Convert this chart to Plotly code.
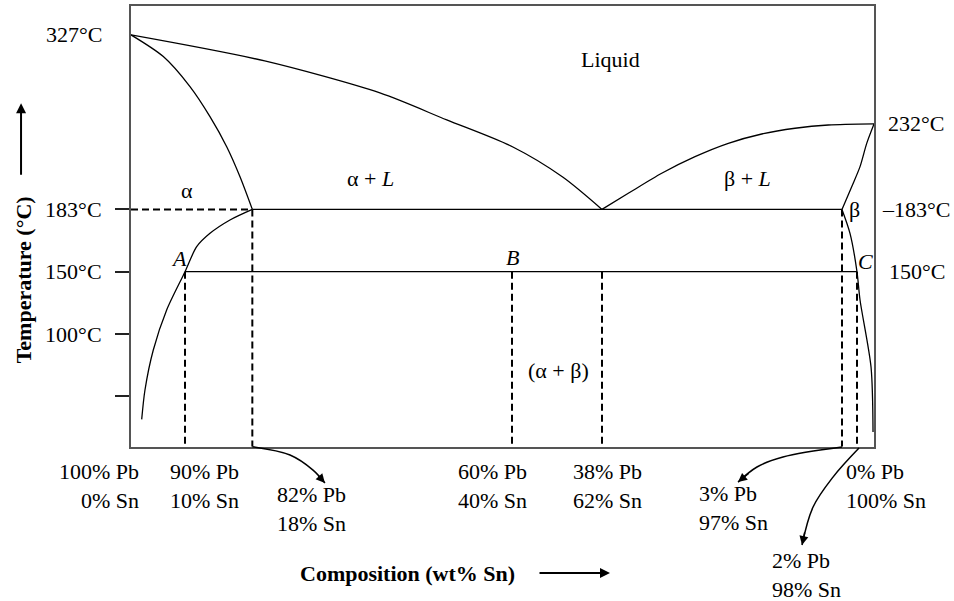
import plotly.graph_objects as go

W, H = 954, 601
FONT = "Liberation Serif"

# ---- schematic diagram units ----
# composition axis: drawn position (0 = 100% Pb, 100 = 100% Sn); temperature axis: drawn position
temp_tick_pos = [200, 150, 100, 50]
temp_tick_text = ["183°C", "150°C", "100°C", ""]

T_PB_MELT = 340.0    # 327°C
T_SN_MELT = 268.6    # 232°C
T_EUT = 200.0        # 183°C
T_LOW = 150.0        # 150°C

X_A = 7.27           # 10% Sn
X_ALPHA = 16.33      # 18% Sn
X_B = 51.28          # 40% Sn
X_EUT = 63.39        # 62% Sn
X_BETA = 95.69       # 97% Sn
X_C = 97.71          # 98% Sn

# phase boundaries
liq_left_x = [0, 18.0, 33.5, 42.5, 51.4, 58.1, X_EUT]
liq_left_y = [T_PB_MELT, 319.1, 293.4, 271.8, 250.1, 226.0, T_EUT]
liq_right_x = [X_EUT, 66.93, 71.43, 75.91, 80.39, 84.89, 89.37, 93.85, 100]
liq_right_y = [T_EUT, 212.9, 229.0, 242.3, 253.0, 260.5, 265.1, 267.7, T_SN_MELT]
sol_alpha_x = [0, 4.35, 7.94, 10.63, 12.88, 14.67, X_ALPHA]
sol_alpha_y = [T_PB_MELT, 322.6, 298.5, 274.4, 250.3, 226.2, T_EUT]
solv_alpha_x = [X_ALPHA, 13.32, 10.63, 8.84, X_A, 4.8, 3.0, 1.88, 1.44]
solv_alpha_y = [T_EUT, 191.5, 180.8, 170.1, T_LOW, 119.3, 87.2, 55.1, 31.5]
sol_beta_x = [100, 99.02, 98.12, 97.0, X_BETA]
sol_beta_y = [T_SN_MELT, 253.0, 234.3, 218.2, T_EUT]
solv_beta_x = [X_BETA, 96.77, X_C, 98.12, 99.6, 99.87]
solv_beta_y = [T_EUT, 180.8, T_LOW, 127.3, 73.5, 21.3]

# dashed composition lines: (x, top)
dashed_x = [X_A, X_ALPHA, X_B, X_EUT, X_BETA, X_C]
dashed_top = [T_LOW, T_EUT, T_LOW, T_LOW, T_EUT, T_LOW]

# curved pointer arrows (below the axis)
arr1_x = [X_ALPHA, 21.4, 24.5, 26.1]
arr1_y = [9.55, 2.9, -9.2, -19.6]
arr2_x = [X_BETA, 87.75, 84.25, 81.7]
arr2_y = [9.3, 1.3, -6.7, -18.8]
arr3_x = [97.98, 94.48, 91.8, 90.31]
arr3_y = [8.5, -14.8, -38.8, -69.3]

# composition labels
comp_labels = ["100% Pb<br>0% Sn", "90% Pb<br>10% Sn", "82% Pb<br>18% Sn", "60% Pb<br>40% Sn",
               "38% Pb<br>62% Sn", "3% Pb<br>97% Sn", "0% Pb<br>100% Sn", "2% Pb<br>98% Sn"]
comp_label_x = [1.35, 9.9, 24.3, 48.65, 64.13, 76.18, 96.0, 85.96]
comp_label_y = [-22, -22, -40.5, -22, -22, -39.3, -22, -93.0]
comp_label_anchor = ["right", "center", "center", "center", "center", "left", "left", "left"]

# region labels
region_text = ["Liquid", "α + <i>L</i>", "α", "β + <i>L</i>", "β", "<i>A</i>", "<i>B</i>", "<i>C</i>", "(α + β)"]
region_x = [64.6, 32.3, 7.54, 83.0, 97.4, 6.46, 51.28, 98.9, 57.5]
region_y = [320.6, 225.0, 214.8, 225.0, 200.3, 160.8, 161.8, 157.8, 71.1]

# ---- layout geometry ----
XDOM = [131 / W, 874 / W]
YDOM = [1 - 446.7 / H, 1 - 6 / H]
XR = [0, 100]
YR = [9.6, 363.2]


def full_range(r, d):
    s = (r[1] - r[0]) / (d[1] - d[0])
    return [r[0] - d[0] * s, r[1] + (1 - d[1]) * s]


X2R = full_range(XR, XDOM)
Y2R = full_range(YR, YDOM)

fig = go.Figure()

line_style = dict(color="black", width=1.3, shape="spline", smoothing=0.8)
for xs, ys in [(liq_left_x, liq_left_y), (liq_right_x, liq_right_y), (sol_alpha_x, sol_alpha_y),
               (solv_alpha_x, solv_alpha_y), (sol_beta_x, sol_beta_y), (solv_beta_x, solv_beta_y)]:
    fig.add_trace(go.Scatter(x=xs, y=ys, mode="lines", line=line_style, hoverinfo="skip"))

# horizontal isotherms
fig.add_trace(go.Scatter(x=[X_ALPHA, X_BETA], y=[T_EUT, T_EUT], mode="lines",
                         line=dict(color="black", width=1.3), hoverinfo="skip"))
fig.add_trace(go.Scatter(x=[X_A, X_C], y=[T_LOW, T_LOW], mode="lines",
                         line=dict(color="black", width=1.3), hoverinfo="skip"))
fig.add_trace(go.Scatter(x=[XR[0], X_ALPHA], y=[T_EUT, T_EUT], mode="lines",
                         line=dict(color="black", width=2, dash="7px,4px"), hoverinfo="skip"))

# vertical dashed lines
for xv, top in zip(dashed_x, dashed_top):
    fig.add_trace(go.Scatter(x=[xv, xv], y=[top, YR[0]], mode="lines",
                             line=dict(color="black", width=2, dash="7px,4px"), hoverinfo="skip"))

# curved arrows in full-figure overlay subplot
for xs, ys in [(arr1_x, arr1_y), (arr2_x, arr2_y), (arr3_x, arr3_y)]:
    fig.add_trace(go.Scatter(x=xs, y=ys, mode="lines", xaxis="x2", yaxis="y2",
                             line=dict(color="black", width=1.5, shape="spline", smoothing=1),
                             hoverinfo="skip"))

ann = []
tf = dict(family=FONT, size=22, color="black")
for t, x, y in zip(region_text, region_x, region_y):
    ann.append(dict(text=t, x=x, y=y, xref="x", yref="y", showarrow=False, font=tf))

for t, x, y, a in zip(comp_labels, comp_label_x, comp_label_y, comp_label_anchor):
    ann.append(dict(text=t, x=x, y=y, xref="x2", yref="y2", showarrow=False, font=tf,
                    xanchor=a, align=a, yanchor="middle"))

# temperature labels without tick / on the right side
ann.append(dict(text="327°C", x=104 / W, y=T_PB_MELT, xref="paper", yref="y",
                xanchor="right", showarrow=False, font=tf))
ann.append(dict(text="232°C", x=886 / W, y=T_SN_MELT, xref="paper", yref="y",
                xanchor="left", showarrow=False, font=tf))
ann.append(dict(text="–183°C", x=952 / W, y=T_EUT, xref="paper", yref="y",
                xanchor="right", showarrow=False, font=tf))
ann.append(dict(text="150°C", x=887 / W, y=T_LOW, xref="paper", yref="y",
                xanchor="left", showarrow=False, font=tf))

# arrowheads for curved pointers
for (xs, ys), (axp, ayp) in zip([(arr1_x, arr1_y), (arr2_x, arr2_y), (arr3_x, arr3_y)],
                                [(-8, -9), (12, -10), (3, -14)]):
    ann.append(dict(text="", x=xs[-1], y=ys[-1], xref="x2", yref="y2", showarrow=True,
                    ax=axp, ay=ayp, arrowhead=2, arrowsize=1.2, arrowwidth=1.5,
                    arrowcolor="black", standoff=0))

# axis titles with arrows
title_font = dict(family=FONT, size=22, color="black", weight="bold")
ann.append(dict(text="<b>Composition (wt% Sn)</b>", x=37.15, y=-91.8, xref="x2", yref="y2",
                showarrow=False, font=title_font))
ann.append(dict(text="", x=64.47, y=-91.8, xref="x2", yref="y2", showarrow=True, ax=-72, ay=0,
                arrowhead=2, arrowsize=1, arrowwidth=2, arrowcolor="black", standoff=0))
ann.append(dict(text="<b>Temperature (°C)</b>", x=-14.5, y=143.3, xref="x2", yref="y2",
                textangle=-90, showarrow=False, font=title_font))
ann.append(dict(text="", x=-14.8, y=285.2, xref="x2", yref="y2", showarrow=True, ax=0, ay=73,
                arrowhead=2, arrowsize=1, arrowwidth=2, arrowcolor="black", standoff=0))

fig.update_layout(
    width=W, height=H,
    margin=dict(l=0, r=0, t=0, b=0),
    paper_bgcolor="white", plot_bgcolor="rgba(0,0,0,0)",
    showlegend=False,
    font=dict(family=FONT, size=22, color="black"),
    xaxis=dict(domain=XDOM, range=XR, showgrid=False, zeroline=False, showline=True, mirror=True,
               linecolor="#555", linewidth=2, showticklabels=False, ticks="", anchor="y"),
    yaxis=dict(domain=YDOM, range=YR, showgrid=False, zeroline=False, showline=True, mirror=True,
               linecolor="#555", linewidth=2, tickvals=temp_tick_pos, ticktext=temp_tick_text,
               ticks="outside", ticklen=14, tickwidth=1.5, tickcolor="#222",
               ticklabelstandoff=9, tickfont=tf, anchor="x"),
    xaxis2=dict(domain=[0, 1], range=X2R, visible=False, anchor="y2"),
    yaxis2=dict(domain=[0, 1], range=Y2R, visible=False, anchor="x2"),
    annotations=ann,
)

fig.write_html("out.html")
